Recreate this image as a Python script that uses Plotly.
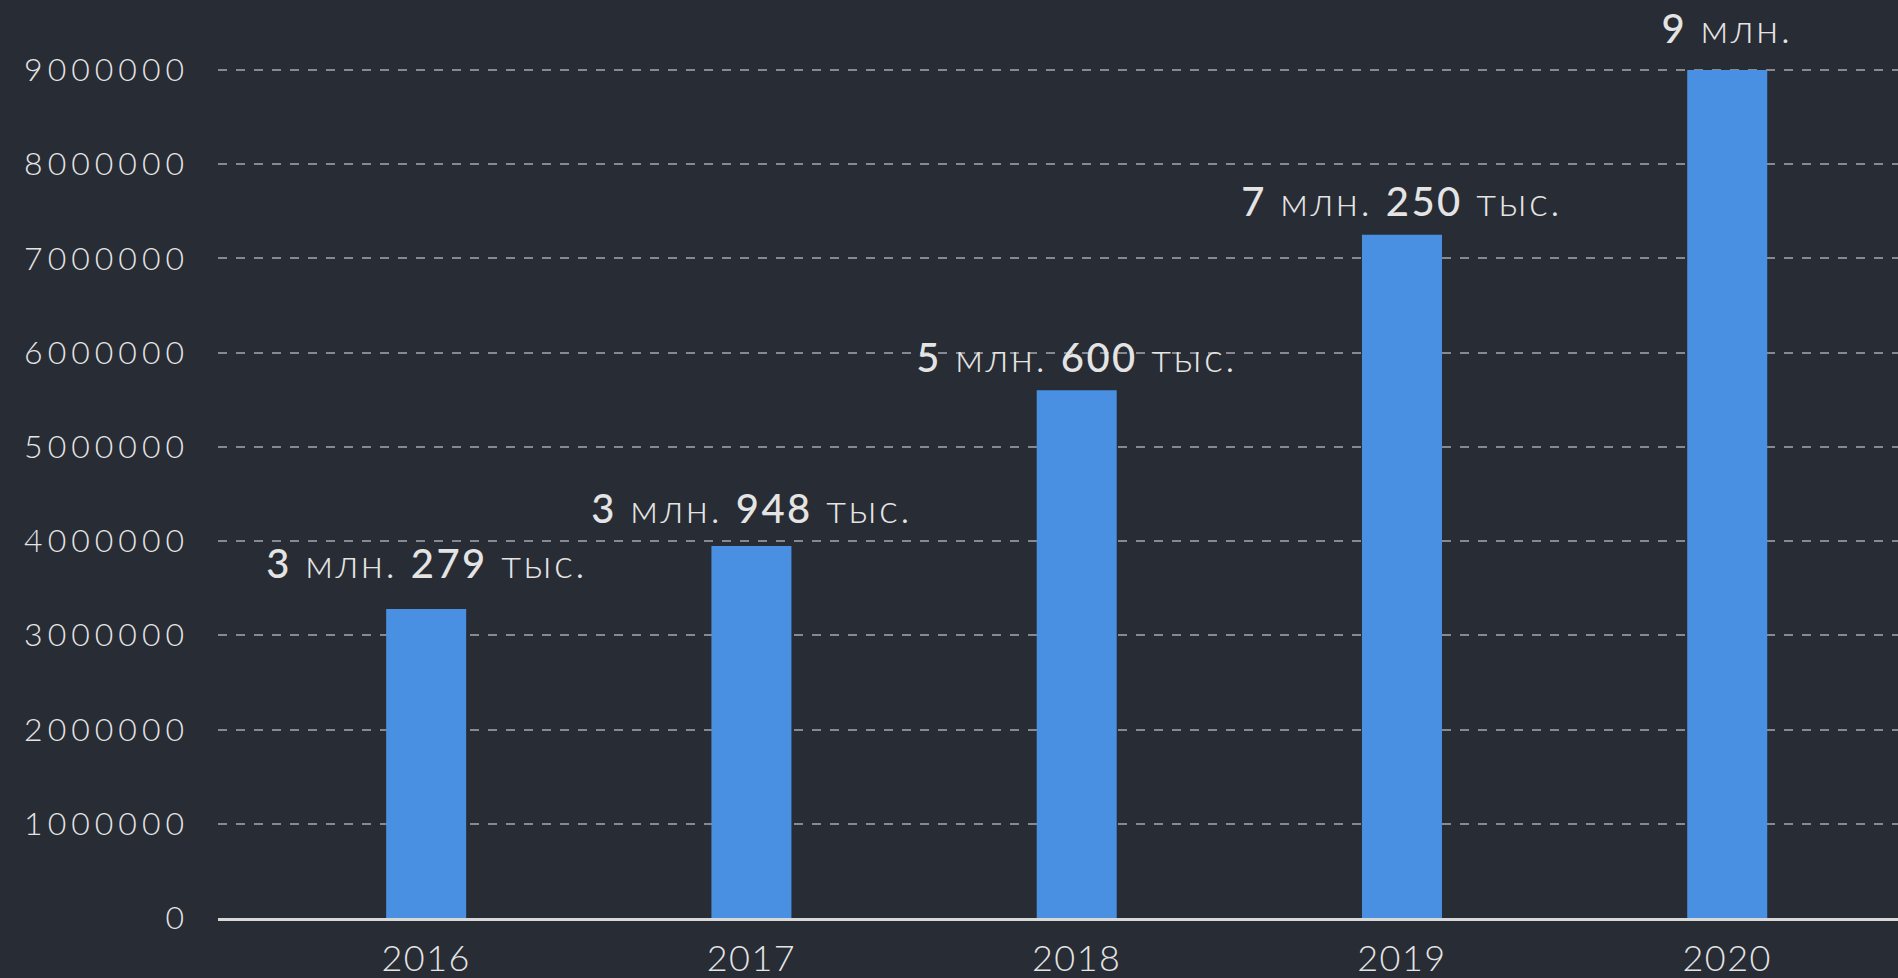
import plotly.graph_objects as go

years = ["2016", "2017", "2018", "2019", "2020"]
values = [3279000, 3948000, 5600000, 7250000, 9000000]
label_offsets = [46, 38, 33, 34, 42]

BG = "#282c34"
BAR = "#4a90e2"
TXT = "#e4e4e4"
FONT = "Lato, 'Open Sans', sans-serif"


def make_label(v):
    mln = v // 1000000
    tys = (v % 1000000) // 1000
    num = "<span style='font-weight:500'>{}</span>"
    s = num.format(mln) + " млн."
    if tys:
        s += " " + num.format(tys) + " тыс."
    return s


fig = go.Figure(
    go.Bar(
        x=years,
        y=values,
        marker=dict(color=BAR, line=dict(width=0)),
        width=0.246,
        hoverinfo="skip",
    )
)

for i, (v, off) in enumerate(zip(values, label_offsets)):
    fig.add_annotation(
        x=i, y=v, xref="x", yref="y", text=make_label(v), showarrow=False,
        yshift=off, font=dict(family=FONT, size=40, color=TXT, weight=300),
    )

fig.update_layout(
    width=1898,
    height=978,
    paper_bgcolor=BG,
    plot_bgcolor=BG,
    margin=dict(l=218, r=0, t=68, b=60, autoexpand=False),
    showlegend=False,
    font=dict(family=FONT, color=TXT, size=30),
    xaxis=dict(
        type="category",
        range=[-0.64, 4.525],
        automargin=False,
        showgrid=False,
        showline=True,
        linecolor="#d8d8d8",
        linewidth=3,
        ticks="",
        tickfont=dict(size=36, color=TXT, weight=300),
        ticklabelstandoff=7,
        fixedrange=True,
    ),
    yaxis=dict(
        range=[0, 9020000],
        automargin=False,
        tickvals=[i * 1000000 for i in range(10)],
        tickformat="d",
        showgrid=True,
        gridcolor="#868a90",
        gridwidth=1.5,
        griddash="dash",
        zeroline=False,
        showline=False,
        ticks="",
        tickfont=dict(size=32, color=TXT, weight=300),
        ticklabelstandoff=28,
        fixedrange=True,
    ),
)

post = (
    "document.body.style.margin='0';"
    "document.body.style.background='" + BG + "';"
    "document.querySelectorAll('.ytick text').forEach(function(t){t.style.letterSpacing='5px';});"
    "document.querySelectorAll('.xtick text').forEach(function(t){t.style.letterSpacing='1.5px';});"
    "document.querySelectorAll('.annotation-text').forEach(function(t){t.style.letterSpacing='2.5px';});"
)

fig.write_html(
    "out.html",
    config={"displayModeBar": False},
    post_script=post,
)
